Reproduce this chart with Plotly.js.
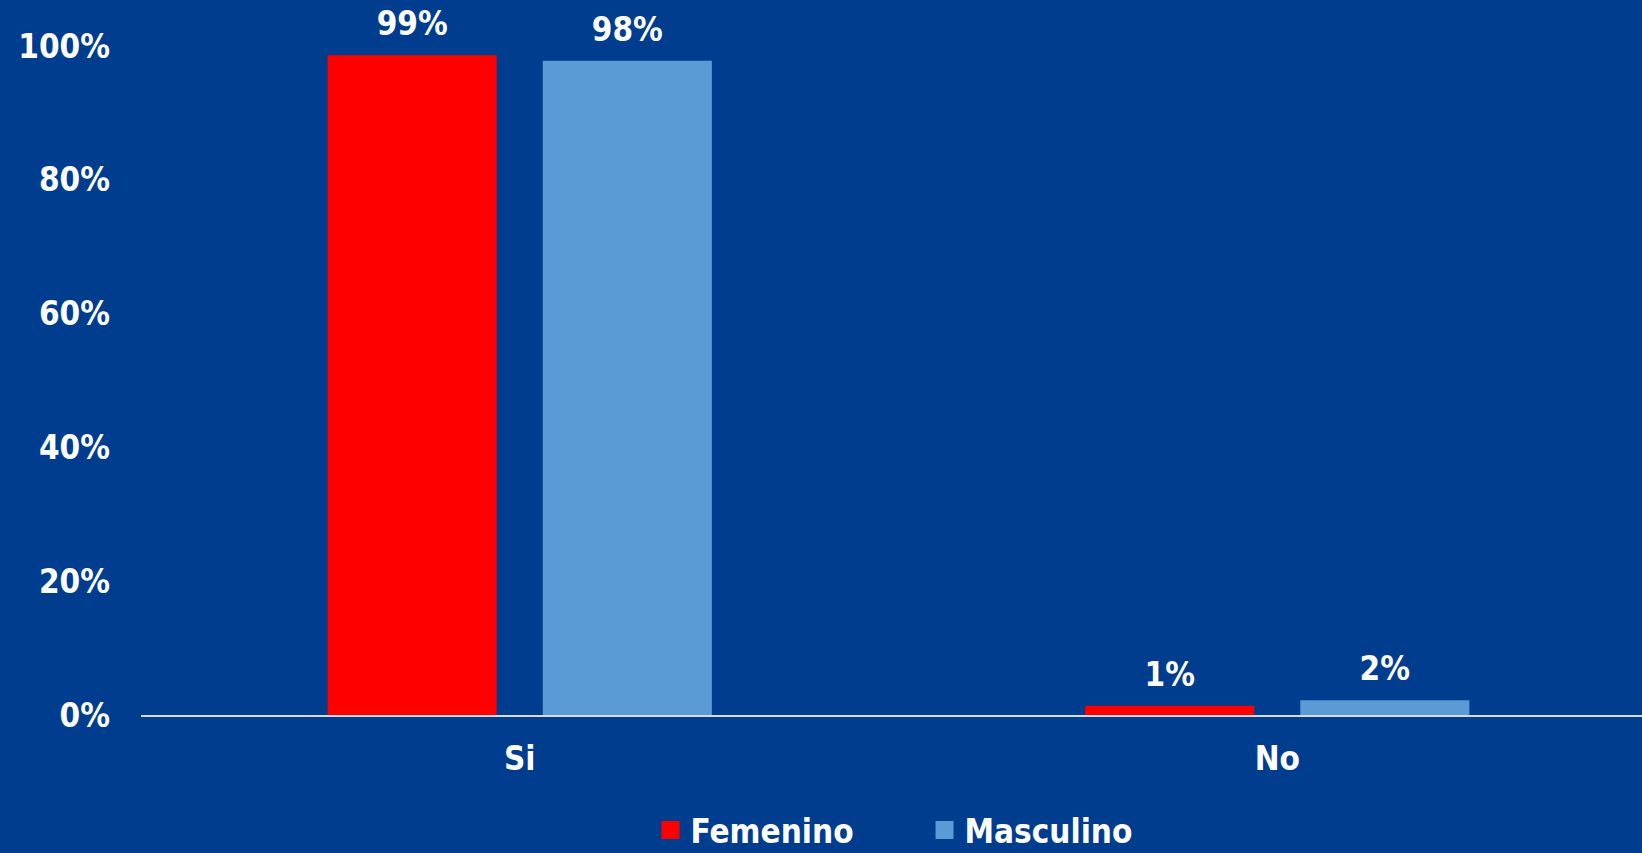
<!DOCTYPE html>
<html>
<head>
<meta charset="utf-8">
<script src="https://cdn.plot.ly/plotly-3.0.1.min.js"></script>
<style>
html,body{margin:0;padding:0;background:#003D8E;}
#chart{width:1642px;height:853px;}
</style>
</head>
<body>
<div id="chart"></div>
<script>
const categories = ["Si", "No"];
const femenino = [0.986, 0.014];
const masculino = [0.978, 0.022];
const seriesNames = ["Femenino", "Masculino"];
const yTickVals = [0, 0.2, 0.4, 0.6, 0.8, 1.0];
const yTickText = ["0%", "20%", "40%", "60%", "80%", "100%"];

const FONT = "DejaVu Sans Condensed, DejaVu Sans, Verdana, sans-serif";
const labelFont = {family: FONT, size: 33, color: "#FFFFFF", weight: "bold"};

const traces = [
  {type: "bar", name: seriesNames[0], x: categories, y: femenino,
   marker: {color: "#FF0000"}, texttemplate: "%{y:.0%}", textposition: "outside",
   textfont: labelFont, cliponaxis: false, hoverinfo: "none"},
  {type: "bar", name: seriesNames[1], x: categories, y: masculino,
   marker: {color: "#5B9BD5"}, texttemplate: "%{y:.0%}", textposition: "outside",
   textfont: labelFont, cliponaxis: false, hoverinfo: "none"}
];

const layout = {
  width: 1642, height: 853,
  paper_bgcolor: "#003D8E", plot_bgcolor: "#003D8E",
  margin: {l: 141, r: 0, t: 46, b: 138, autoexpand: false},
  barmode: "group", bargap: 0.432, bargroupgap: 0.214,
  font: {family: FONT, color: "#FFFFFF"},
  xaxis: {type: "category", range: [-0.5, 1.4815], showgrid: false, zeroline: false,
          showline: true, linecolor: "#D9D9D9", linewidth: 2, ticks: "",
          tickfont: labelFont, ticklabelstandoff: 13, fixedrange: true},
  yaxis: {range: [0, 1], showgrid: false, zeroline: false, showline: false, ticks: "",
          tickvals: yTickVals, ticktext: yTickText, tickfont: labelFont,
          ticklabelstandoff: 30, fixedrange: true},
  showlegend: true,
  legend: {orientation: "h", x: 0.522, xanchor: "center", y: -0.172, yanchor: "middle",
           font: labelFont, bgcolor: "rgba(0,0,0,0)", itemwidth: 30, entrywidth: 229,
           traceorder: "normal"},
  uniformtext: {mode: false}
};

Plotly.newPlot("chart", traces, layout, {displayModeBar: false, staticPlot: true}).then(function(gd){
  // larger legend swatches, as in the reference
  gd.querySelectorAll(".legend .legendpoints path").forEach(function(p){
    p.setAttribute("d", "M9,9H-9V-9H9Z");
  });
  // lift the value labels a little higher above the bars
  gd.querySelectorAll(".bars .point text").forEach(function(t){
    const tr = t.getAttribute("transform") || "";
    t.setAttribute("transform", "translate(0,-9) " + tr);
  });
});
</script>
</body>
</html>
